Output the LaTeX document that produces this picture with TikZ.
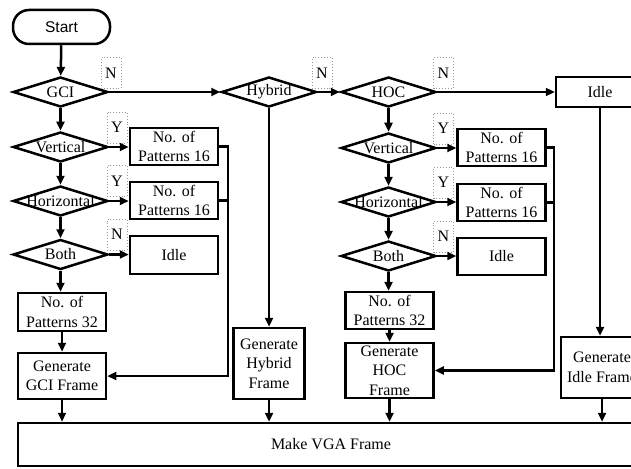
\documentclass[tikz,border=0pt]{standalone}
\usepackage{fontspec}
\setmainfont{Liberation Serif}
\newfontfamily\startfont{Liberation Sans}
\usetikzlibrary{shapes.geometric,arrows.meta,calc}

\begin{document}
\begin{tikzpicture}[x=1pt,y=-1pt,
  line width=2.5pt,
  font=\fontsize{16}{19.5}\selectfont,
  box/.style={draw, rectangle, inner sep=0pt, align=center, minimum width=88pt},
  dec/.style={draw, diamond, inner sep=0pt, minimum width=95pt, minimum height=30pt},
  tag/.style={draw=gray!80, dotted, line width=0.9pt, minimum width=20pt,
              minimum height=31pt, inner sep=0pt},
  flow/.style={-{Triangle[length=9pt,width=8pt]}},
  every label/.style={inner sep=0pt},
]
\useasboundingbox (0,0) rectangle (631,468);
\clip (0,0) rectangle (631,468);

% start terminal
\node[draw, rectangle, rounded corners=16pt, minimum width=97pt, minimum height=34pt,
      inner sep=0pt, font=\startfont\fontsize{15.5}{18}\selectfont] (start) at (61.5,27) {Start};

% top row of decisions
\node[dec, label=center:GCI]    (gci) at (60.5,92) {};
\node[dec, label=center:Hybrid] (hyb) at (269,92) {};
\node[dec, label=center:HOC]    (hoc) at (388.5,92) {};
\node[box, minimum height=30pt] (idle0) at (600,92) {Idle};

\node[tag] (tgci) at (111,73) {N};
\node[tag] (thyb) at (322,73) {N};
\node[tag] (thoc) at (443.5,73) {N};

% GCI branch
\node[dec, label=center:Vertical]   (v1) at (60.5,147) {};
\node[dec, label=center:Horizontal] (h1) at (60.5,201) {};
\node[dec, label=center:Both]       (b1) at (60.5,254.5) {};
\node[tag] (tv1) at (117,127.5) {Y};
\node[tag] (th1) at (117,181) {Y};
\node[tag] (tb1) at (117,234.5) {N};
\node[box, minimum height=37pt] (p16a) at (174,146.5) {No. of\\Patterns 16};
\node[box, minimum height=37pt] (p16b) at (174,200.5) {No. of\\Patterns 16};
\node[box, minimum height=38pt] (idle1) at (174,255) {Idle};
\node[box, minimum height=38pt] (p32a) at (62,312) {No. of\\Patterns 32};
\node[box, minimum height=46pt] (gf) at (62,376) {Generate\\GCI Frame};
\coordinate (busA) at (228,146.5);

% Hybrid branch
\node[box, minimum width=71pt, minimum height=71pt] (hf) at (269,363.5) {Generate\\Hybrid\\Frame};

% HOC branch
\node[dec, label=center:Vertical]   (v2) at (388.5,148) {};
\node[dec, label=center:Horizontal] (h2) at (388.5,202) {};
\node[dec, label=center:Both]       (b2) at (388.5,256) {};
\node[tag] (tv2) at (443.5,128.5) {Y};
\node[tag] (th2) at (443.5,182.5) {Y};
\node[tag] (tb2) at (443.5,236.5) {N};
\node[box, minimum height=37pt] (p16c) at (501.5,147.5) {No. of\\Patterns 16};
\node[box, minimum height=37pt] (p16d) at (501.5,202.5) {No. of\\Patterns 16};
\node[box, minimum height=37pt] (idle2) at (501.5,256.5) {Idle};
\node[box, minimum height=37pt] (p32b) at (389.5,310.5) {No. of\\Patterns 32};
\node[box, minimum height=55pt] (hocf) at (389.5,370.5) {Generate\\HOC\\Frame};
\coordinate (busB) at (554,147.5);

% Idle branch
\node[box, minimum width=82pt, minimum height=61pt] (idf) at (602,367.5) {Generate\\Idle Frame};

% output
\node[draw, rectangle, inner sep=0pt, minimum width=626pt, minimum height=43pt] (vga) at (331,444.5) {Make VGA Frame};

% connectors
\draw[flow] (start) -- (gci);
\draw[flow] (gci.east) -- (hyb.west);
\draw[flow] (hyb.east) -- (hoc.west);
\draw[flow] (hoc.east) -- (idle0.west);

\draw[flow] (gci) -- (v1);
\draw[flow] (v1) -- (h1);
\draw[flow] (h1) -- (b1);
\draw[flow] (b1.south) -- (b1.south |- p32a.north);
\draw[flow] (p32a) -- (gf);
\draw[flow] (v1.east) -- (p16a.west |- v1.east);
\draw[flow] (h1.east) -- (p16b.west |- h1.east);
\draw[flow] (b1.east) -- (idle1.west |- b1.east);
\draw[flow] (p16a.east) -| (busA |- gf.east) -- (gf.east);
\draw (p16b.east) -- (busA |- p16b.east);

\draw[flow] (hyb.south) -- (hf.north);

\draw[flow] (hoc) -- (v2);
\draw[flow] (v2) -- (h2);
\draw[flow] (h2) -- (b2);
\draw[flow] (b2.south) -- (b2.south |- p32b.north);
\draw[flow] (p32b) -- (hocf);
\draw[flow] (v2.east) -- (p16c.west |- v2.east);
\draw[flow] (h2.east) -- (p16d.west |- h2.east);
\draw[flow] (b2.east) -- (idle2.west |- b2.east);
\draw[flow] (p16c.east) -| (busB |- hocf.east) -- (hocf.east);
\draw (p16d.east) -- (busB |- p16d.east);

\draw[flow] (idle0.south) -- (idle0.south |- idf.north);

\draw[flow] (gf.south) -- (gf.south |- vga.north);
\draw[flow] (hf.south) -- (hf.south |- vga.north);
\draw[flow] (hocf.south) -- (hocf.south |- vga.north);
\draw[flow] (idf.south) -- (idf.south |- vga.north);
\end{tikzpicture}
\end{document}
